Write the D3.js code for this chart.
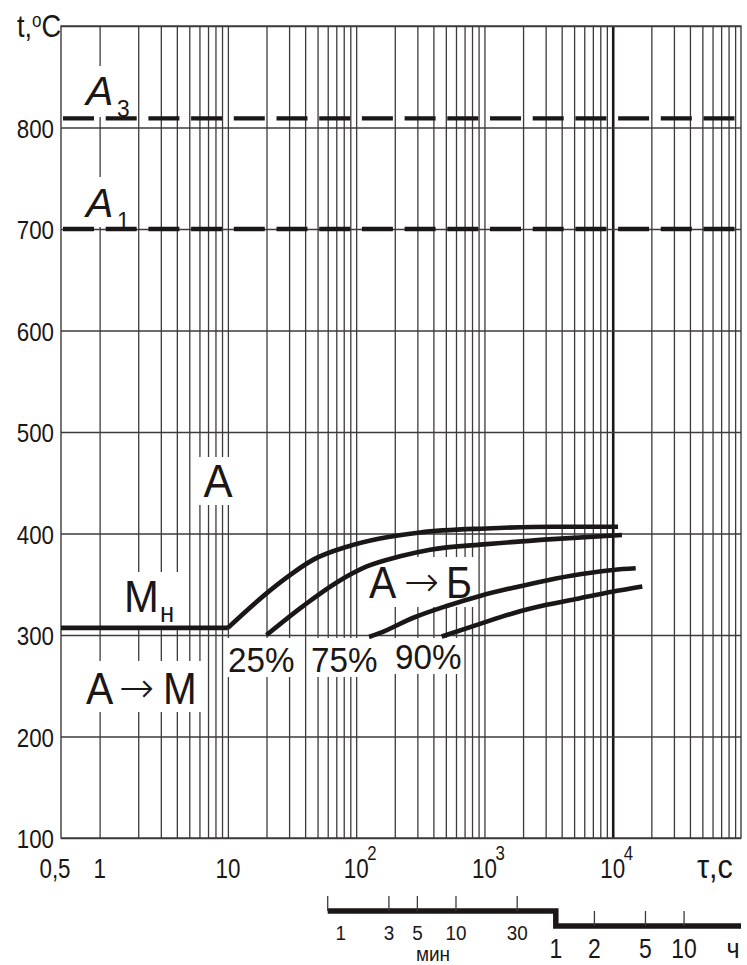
<!DOCTYPE html>
<html>
<head>
<meta charset="utf-8">
<script src="https://cdn.jsdelivr.net/npm/d3@7/dist/d3.min.js"></script>
<style>
  body { margin: 0; background: #fff; }
  svg { display: block; }
  text { font-family: "Liberation Sans", Arial, sans-serif; fill: #1b1716; }
  text.arrow { font-family: "DejaVu Sans", sans-serif; }
</style>
</head>
<body>
<svg id="chart" width="747" height="965"></svg>
<script>
// ---- data ----
const tempDomain = [100, 900];
const tempTicks = [100, 200, 300, 400, 500, 600, 700, 800];
const timeDomain = [0.5, 1e5];
const timeTickValues = [0.5, 1, 10, 100, 1000, 10000];
const timeTickBase = ["0,5", "1", "10", "10", "10", "10"];
const timeTickExp = ["", "", "", "2", "3", "4"];

// critical points A3, A1 (°C)
const criticalTemps = [809, 700];
const criticalIndex = ["3", "1"];

// martensite start line
const msLine = [[0.5, 307], [10, 307]];

// bainite transformation curves: [time s, temperature °C]
const bainiteStart = [[10, 307], [20, 341], [29, 357], [46, 374], [85, 387], [153, 395], [315, 401], [1040, 405], [3400, 406.7], [11000, 406.7]];
const bainite25 = [[20, 300], [39, 329], [71, 352], [121, 367.5], [220, 377.5], [377, 384], [1040, 389.5], [3400, 394.5], [11800, 398.6]];
const bainite75 = [[126, 298], [154, 302], [279, 317], [508, 328.6], [923, 338.5], [1680, 346.6], [3050, 353.8], [5550, 359.8], [10100, 364.1], [15100, 365.7]];
const bainite90 = [[464, 298.5], [923, 311], [1680, 321.5], [3050, 329.7], [5550, 336.3], [10100, 342.8], [17000, 347.8]];

// secondary time scale (minutes / hours)
const minuteTicks = [1, 3, 5, 10, 30];
const minuteLabels = ["1", "3", "5", "10", "30"];
const hourTicks = [1, 2, 5, 10];
const hourLabels = ["1", "2", "5", "10"];

// ---- layout ----
const svg = d3.select("#chart");
const plotLeft = 61, plotRight = 741, plotTop = 26, plotBottom = 838;
const ink = "#1b1716", gridInk = "#3d3a3a";

const x = d3.scaleLog().domain(timeDomain).range([plotLeft, plotRight]);
const y = d3.scaleLinear().domain(tempDomain).range([plotBottom, plotTop]);

// grid time values: 1..9 per decade, 1 s .. 1e5 s
const gridTimes = [];
for (let e = 0; e <= 4; e++) for (let k = 1; k <= 9; k++) gridTimes.push(k * Math.pow(10, e));

// vertical grid via axis
const vGrid = svg.append("g")
  .attr("transform", `translate(0,${plotBottom})`)
  .call(d3.axisBottom(x).tickValues(gridTimes).tickSize(-(plotBottom - plotTop)).tickFormat(""));
vGrid.select(".domain").remove();
vGrid.selectAll(".tick line")
  .attr("stroke", d => d === 10000 ? ink : gridInk)
  .attr("stroke-width", d => d === 10000 ? 2.6 : 1.3);

// horizontal grid via axis
const hGrid = svg.append("g")
  .attr("transform", `translate(${plotLeft},0)`)
  .call(d3.axisLeft(y).tickValues(tempTicks.concat([900])).tickSize(-(plotRight - plotLeft)).tickFormat(""));
hGrid.select(".domain").remove();
hGrid.selectAll(".tick line").attr("stroke", gridInk).attr("stroke-width", 1.3);

// frame
svg.append("rect")
  .attr("x", x(timeDomain[0])).attr("y", y(tempDomain[1]))
  .attr("width", x(timeDomain[1]) - x(timeDomain[0]))
  .attr("height", y(tempDomain[0]) - y(tempDomain[1]))
  .attr("fill", "none").attr("stroke", gridInk).attr("stroke-width", 1.4);

// helper for condensed text
function txt(px, py, sx, anchor) {
  return svg.append("text")
    .attr("transform", `translate(${px},${py}) scale(${sx},1)`)
    .attr("text-anchor", anchor || "start");
}

// white label backgrounds that interrupt the grid
const boxes = [
  [84, 66, 52, 51], [84, 177, 52, 50],      // A3, A1
  [197, 457, 42, 48],                       // A
  [118, 572, 64, 54],                       // Mн
  [82, 661, 120, 51],                       // A→M
  [365, 557, 112, 50],                      // A→Б
  [225, 638, 72, 39], [308, 638, 72, 39], [392, 638, 72, 36] // percentages
];
svg.append("g").selectAll("rect").data(boxes).join("rect")
  .attr("x", d => d[0]).attr("y", d => d[1]).attr("width", d => d[2]).attr("height", d => d[3])
  .attr("fill", "#fff");

// y tick labels
tempTicks.forEach(t => {
  txt(54, y(t) + 10, 0.86, "end").attr("font-size", 26).text(t);
});

// x tick labels
timeTickValues.forEach((t, i) => {
  const dx = t === 0.5 ? -6 : 0;
  txt(x(t) + dx, 878, 0.8, "middle").attr("font-size", 28).text(timeTickBase[i]);
  if (timeTickExp[i]) {
    txt(x(t) + 11, 860, 0.8, "start").attr("font-size", 21).text(timeTickExp[i]);
  }
});

// axis titles
const tTitle = txt(17, 37, 0.85).attr("font-size", 32);
tTitle.append("tspan").text("t,");
tTitle.append("tspan").attr("font-size", 20).attr("dy", -10).text("o");
tTitle.append("tspan").attr("dy", 10).text("C");
txt(697, 878, 0.9).attr("font-size", 34).text("τ,с");

// critical temperature dashed lines
criticalTemps.forEach((t, i) => {
  svg.append("line")
    .attr("x1", 63).attr("x2", plotRight)
    .attr("y1", y(t)).attr("y2", y(t))
    .attr("stroke", ink).attr("stroke-width", 4.4)
    .attr("stroke-dasharray", "31,11.7");
  const ly = i === 0 ? 105 : 217;
  txt(86, ly, 1.0).attr("font-size", 41).attr("font-style", "italic").text("A");
  txt(117, ly + 12, 0.95).attr("font-size", 24).text(criticalIndex[i]);
});

// curves
const line = d3.line().x(d => x(d[0])).y(d => y(d[1])).curve(d3.curveMonotoneX);
[msLine, bainiteStart, bainite25, bainite75, bainite90].forEach(c => {
  svg.append("path").attr("d", line(c))
    .attr("fill", "none").attr("stroke", ink).attr("stroke-width", 4.6)
    .attr("stroke-linejoin", "round");
});

// region labels
txt(218, 497, 0.95, "middle").attr("font-size", 46).text("A");
txt(124, 612, 0.95).attr("font-size", 44).text("M");
txt(160, 622, 0.95).attr("font-size", 27).text("н");
// A → M
txt(86, 704, 0.93).attr("font-size", 44).text("A");
txt(119, 702, 1.0).attr("class", "arrow").attr("font-size", 42).attr("font-weight", 300).text("→");
txt(163, 704, 0.92).attr("font-size", 44).text("M");
// A → Б
txt(369, 598, 0.93).attr("font-size", 44).text("A");
txt(404, 596, 1.0).attr("class", "arrow").attr("font-size", 42).attr("font-weight", 300).text("→");
txt(446, 598, 0.9).attr("font-size", 44).text("Б");
// transformation percentages
txt(228, 672, 0.95).attr("font-size", 35).text("25%");
txt(311, 672, 0.95).attr("font-size", 35).text("75%");
txt(395, 669, 0.95).attr("font-size", 35).text("90%");

// minutes / hours scale
const barY1 = 911, barY2 = 926;
svg.append("path")
  .attr("d", `M${x(60)},${barY1}H${x(3600)}V${barY2}H${x(1e5)}`)
  .attr("fill", "none").attr("stroke", ink).attr("stroke-width", 5.5);
minuteTicks.forEach((m, i) => {
  svg.append("line").attr("x1", x(m * 60)).attr("x2", x(m * 60))
    .attr("y1", 896).attr("y2", barY1).attr("stroke", gridInk).attr("stroke-width", 1.3);
  const dx = i === 0 ? 13 : 0;
  txt(x(m * 60) + dx, 940, 0.9, "middle").attr("font-size", 21).text(minuteLabels[i]);
});
txt(433, 961, 0.95, "middle").attr("font-size", 20).text("мин");
hourTicks.forEach((h, i) => {
  if (i > 0) {
    svg.append("line").attr("x1", x(h * 3600)).attr("x2", x(h * 3600))
      .attr("y1", barY1).attr("y2", barY2).attr("stroke", gridInk).attr("stroke-width", 1.3);
  }
  txt(x(h * 3600), 958, 0.82, "middle").attr("font-size", 28).text(hourLabels[i]);
});
txt(733, 958, 0.9, "middle").attr("font-size", 28).text("ч");
</script>
</body>
</html>
